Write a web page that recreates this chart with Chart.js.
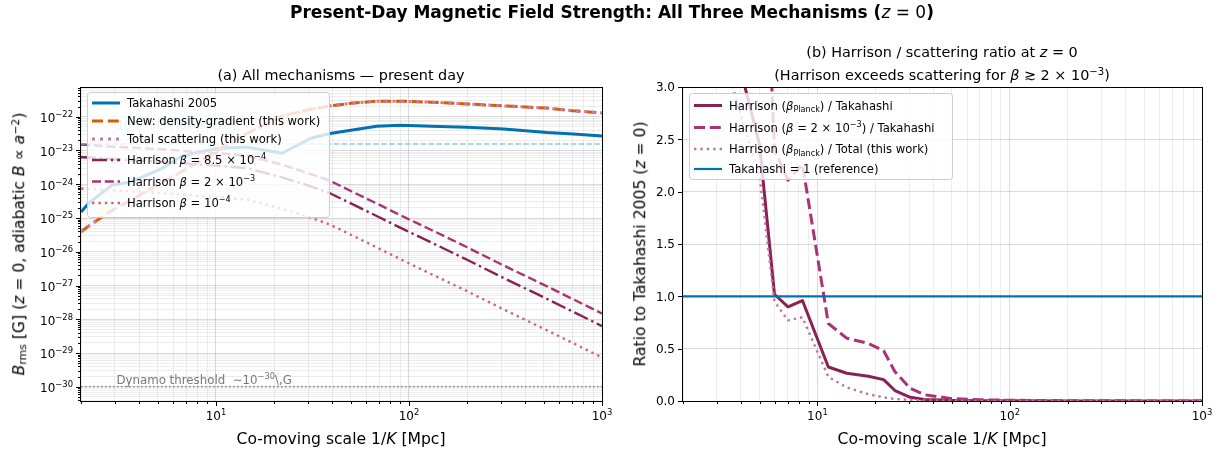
<!DOCTYPE html>
<html>
<head>
<meta charset="utf-8">
<title>Present-Day Magnetic Field Strength</title>
<script src="https://cdn.jsdelivr.net/npm/chart.js@4.4.1/dist/chart.umd.min.js"></script>
<style>
  body { margin: 0; background: #fff; }
  #fig { position: relative; width: 1227px; height: 457px; overflow: hidden; font-family: "DejaVu Sans", sans-serif; color: #000; }
  #fig canvas { position: absolute; top: 0; }
  .lbl { position: absolute; white-space: nowrap; transform: translate(-50%, -50%); line-height: 1; }
  .rot { transform: translate(-50%, -50%) rotate(-90deg); }
  .lbl sup { font-size: 70%; vertical-align: 0.5em; line-height: 0; }
  .lbl sub { font-size: 70%; vertical-align: -0.22em; line-height: 0; }
</style>
</head>
<body>
<div id="fig">
  <canvas id="chartA" width="620" height="457" style="left:0"></canvas>
  <canvas id="chartB" width="607" height="457" style="left:620px"></canvas>

  <div class="lbl" style="left:612px;top:12px;font-size:17px;font-weight:bold">Present-Day Magnetic Field Strength: All Three Mechanisms (<i style="font-weight:normal">z</i><span style="font-weight:normal"> = 0</span>)</div>

  <div class="lbl" style="left:341px;top:75px;font-size:14.4px">(a) All mechanisms — present day</div>
  <div class="lbl" style="left:942px;top:52px;font-size:14.4px">(b) Harrison / scattering ratio at <i>z</i> = 0</div>
  <div class="lbl" style="left:942px;top:75px;font-size:14.4px">(Harrison exceeds scattering for <i>β</i> ≳ 2 × 10<sup>−3</sup>)</div>

  <div class="lbl rot" style="left:20px;top:244px;font-size:15.6px"><i>B</i><sub>rms</sub> [G] (<i>z</i> = 0, adiabatic <i>B</i> ∝ <i>a</i><sup>−2</sup>)</div>
  <div class="lbl rot" style="left:641px;top:244px;font-size:15.6px">Ratio to Takahashi 2005 (<i>z</i> = 0)</div>

  <div class="lbl" style="left:341px;top:440px;font-size:15.6px">Co-moving scale 1/<i>K</i> [Mpc]</div>
  <div class="lbl" style="left:942px;top:440px;font-size:15.6px">Co-moving scale 1/<i>K</i> [Mpc]</div>
</div>

<script>
// ---------- panel (a): field strength today ----------
const kA = [2, 2.2, 2.9, 3.6, 4.4, 5.3, 6.5, 8, 10.5, 14.5, 22, 31, 39, 50, 68, 90, 130, 200, 310, 520, 710, 1000];
const takahashi = [1.5e-25, 2.8e-25, 9.5e-25, 1.17e-24, 1.9e-24, 3.0e-24, 6.3e-24, 8.9e-24, 1.17e-23, 1.26e-23, 8.3e-24,
  2.3e-23, 3.2e-23, 4.0e-23, 5.2e-23, 5.6e-23, 5.2e-23, 4.9e-23, 4.3e-23, 3.4e-23, 3.1e-23, 2.7e-23];
const densityGradient = [3.9e-26, 5.9e-26, 1.7e-25, 3.3e-25, 6.3e-25, 1.17e-24, 2.2e-24, 4.3e-24, 1.1e-23, 3.2e-23, 1.05e-22,
  1.66e-22, 2.1e-22, 2.5e-22, 2.9e-22, 2.9e-22, 2.7e-22, 2.4e-22, 2.1e-22, 1.8e-22, 1.5e-22, 1.3e-22];
const totalScattering = [3.9e-26, 5.9e-26, 1.7e-25, 3.3e-25, 6.3e-25, 1.17e-24, 2.2e-24, 4.3e-24, 1.1e-23, 3.2e-23, 1.05e-22,
  1.66e-22, 2.1e-22, 2.5e-22, 2.9e-22, 2.9e-22, 2.7e-22, 2.4e-22, 2.1e-22, 1.8e-22, 1.5e-22, 1.3e-22];
const harrison85e4 = [6.3e-24, 6.2e-24, 5.6e-24, 5.2e-24, 4.9e-24, 4.6e-24, 4.3e-24, 3.8e-24, 3.5e-24, 3.0e-24, 1.6e-24,
  8.7e-25, 5.4e-25, 2.7e-25, 1.15e-25, 5.2e-26, 1.9e-26, 5.8e-27, 1.66e-27, 4.0e-28, 1.66e-28, 6.3e-29];
const harrison2e3 = [1.5e-23, 1.46e-23, 1.3e-23, 1.22e-23, 1.15e-23, 1.08e-23, 1.0e-23, 8.9e-24, 8.2e-24, 7.1e-24, 3.8e-24,
  2.0e-24, 1.27e-24, 6.3e-25, 2.7e-25, 1.22e-25, 4.5e-26, 1.36e-26, 3.9e-27, 9.4e-28, 3.9e-28, 1.48e-28];
const harrison1e4 = [7.4e-25, 7.3e-25, 6.6e-25, 6.1e-25, 5.8e-25, 5.4e-25, 5.1e-25, 4.5e-25, 4.1e-25, 3.5e-25, 1.9e-25,
  1.02e-25, 6.4e-26, 3.2e-26, 1.35e-26, 6.1e-27, 2.2e-27, 6.8e-28, 1.95e-28, 4.7e-29, 1.95e-29, 7.4e-30];
const kEnds = [2, 1000];
const takahashiLevel = [1.55e-23, 1.55e-23];
const dynamoLevel = [1e-30, 1e-30];

const xTickValues = [10, 100, 1000];
const xTickLabels = ['10^1', '10^2', '10^3'];
const yTickValuesA = [1e-30, 1e-29, 1e-28, 1e-27, 1e-26, 1e-25, 1e-24, 1e-23, 1e-22];
const yTickLabelsA = ['10^-30', '10^-29', '10^-28', '10^-27', '10^-26', '10^-25', '10^-24', '10^-23', '10^-22'];

// ---------- panel (b): ratio to Takahashi ----------
const kB = [2, 3.5, 4.2, 5.0, 5.98, 7.03, 8.36, 11.4, 14.2, 18.4, 22.1, 25.3, 30.4, 36, 49, 70, 100, 200, 500, 1000];
const ratioPlanck = [9.0, 3.6, 3.0, 2.45, 1.02, 0.90, 0.96, 0.325, 0.265, 0.236, 0.204, 0.10, 0.035, 0.015, 0.006, 0.003, 0.002, 0.001, 0.0005, 0.0003];
const ratioBeta2 = [21, 8.5, 7.05, 5.76, 2.40, 2.11, 2.26, 0.74, 0.60, 0.55, 0.48, 0.28, 0.12, 0.06, 0.025, 0.012, 0.007, 0.003, 0.001, 0.0006];
const ratioTotal = [8, 3.1, 2.6, 2.15, 0.95, 0.77, 0.80, 0.23, 0.13, 0.065, 0.035, 0.02, 0.01, 0.005, 0.002, 0.001, 0.0008, 0.0004, 0.0002, 0.0001];
const ratioRef = [1, 1];
const yTickValuesB = [0, 0.5, 1, 1.5, 2, 2.5, 3];
const yTickLabelsB = ['0.0', '0.5', '1.0', '1.5', '2.0', '2.5', '3.0'];

const FONT = '"DejaVu Sans", sans-serif';
const GRID_MAJOR = 'rgba(0,0,0,0.14)';
const GRID_MINOR = 'rgba(0,0,0,0.07)';

function pts(xs, ys) { return xs.map((x, i) => ({ x: x, y: ys[i] })); }

function logTicks(min, max) {
  const out = [];
  for (let e = Math.floor(Math.log10(min)); e <= Math.ceil(Math.log10(max)); e++) {
    for (let m = 1; m <= 9; m++) {
      const v = m * Math.pow(10, e);
      if (v >= min * 0.9999 && v <= max * 1.0001) out.push(v);
    }
  }
  return out;
}
function isDecade(v) { const l = Math.log10(v); return Math.abs(l - Math.round(l)) < 1e-6; }

function tickSegs(s) {
  const p = s.split('^');
  if (p.length < 2) return [[s, '']];
  return [[p[0], ''], [p[1].replace('-', '\u2212'), 'sup']];
}

// draws mixed text (plain / italic / superscript / subscript), y = middle of the capitals
function drawRich(ctx, segs, x, y, size, align, color) {
  let total = 0;
  const parts = segs.map(([t, st]) => {
    const small = st === 'sup' || st === 'sub';
    const font = (st === 'i' ? 'italic ' : '') + (small ? size * 0.7 : size) + 'px ' + FONT;
    ctx.font = font;
    const w = ctx.measureText(t).width;
    total += w;
    return { t, font, w, dy: st === 'sup' ? -0.42 * size : (st === 'sub' ? 0.22 * size : 0) };
  });
  let cx = align === 'center' ? x - total / 2 : (align === 'right' ? x - total : x);
  const base = y + 0.36 * size;
  ctx.fillStyle = color;
  ctx.textAlign = 'left';
  ctx.textBaseline = 'alphabetic';
  parts.forEach(p => { ctx.font = p.font; ctx.fillText(p.t, cx, base + p.dy); cx += p.w; });
}

// frame, tick marks, tick labels, notes and the semi-transparent legend
function makeDecor(cfg) {
  return {
    id: 'decor',
    afterDatasetsDraw(chart) {
      const ctx = chart.ctx, a = chart.chartArea;
      const sx = chart.scales.x, sy = chart.scales.y;
      ctx.save();
      (cfg.notes || []).forEach(n => {
        drawRich(ctx, n.segs, sx.getPixelForValue(n.x), sy.getPixelForValue(n.y), 11.8, 'left', n.color);
      });
      ctx.setLineDash([]);
      ctx.strokeStyle = '#000';
      ctx.lineWidth = 1;
      ctx.beginPath();
      sx.ticks.forEach(t => {
        const p = Math.round(sx.getPixelForValue(t.value)) + 0.5;
        const len = isDecade(t.value) ? 5 : 3;
        ctx.moveTo(p, a.bottom); ctx.lineTo(p, a.bottom + len);
      });
      sy.ticks.forEach(t => {
        const p = Math.round(sy.getPixelForValue(t.value)) + 0.5;
        const len = (!cfg.yLog || isDecade(t.value)) ? 5 : 3;
        ctx.moveTo(a.left, p); ctx.lineTo(a.left - len, p);
      });
      ctx.stroke();
      ctx.strokeRect(Math.round(a.left) - 0.5, Math.round(a.top) + 0.5, Math.round(a.right - a.left) + 1, Math.round(a.bottom - a.top));
      xTickValues.forEach((v, i) => {
        drawRich(ctx, tickSegs(xTickLabels[i]), sx.getPixelForValue(v), a.bottom + 15, 12, 'center', '#000');
      });
      cfg.yTicks.forEach((v, i) => {
        drawRich(ctx, tickSegs(cfg.yLabels[i]), a.left - 8, sy.getPixelForValue(v) + (cfg.yLog ? 1 : 0), 12, 'right', '#000');
      });
      ctx.restore();
    },
    afterDraw(chart) {
      const ctx = chart.ctx, L = cfg.legend;
      ctx.save();
      ctx.beginPath();
      ctx.roundRect(L.x + 0.5, L.y + 0.5, L.w, L.h, 3);
      ctx.fillStyle = 'rgba(255,255,255,0.8)';
      ctx.fill();
      ctx.strokeStyle = '#cccccc';
      ctx.lineWidth = 1;
      ctx.stroke();
      L.items.forEach(it => {
        const ds = chart.data.datasets[it.ds];
        ctx.beginPath();
        ctx.setLineDash(ds.borderDash || []);
        ctx.lineWidth = ds.borderWidth;
        ctx.strokeStyle = ds.borderColor;
        ctx.moveTo(L.x + 5, it.y); ctx.lineTo(L.x + 33, it.y);
        ctx.stroke();
        drawRich(ctx, it.segs, L.x + 40, it.y, 11.6, 'left', '#000');
      });
      ctx.restore();
    }
  };
}

function xScale() {
  return {
    type: 'logarithmic', min: 2, max: 1000, bounds: 'data',
    afterBuildTicks: s => { s.ticks = logTicks(2, 1000).map(v => ({ value: v })); },
    afterFit: s => { s.height = 56; s.paddingLeft = 0; s.paddingRight = 0; },
    ticks: { display: false },
    grid: { color: c => (c.tick && isDecade(c.tick.value) ? GRID_MAJOR : GRID_MINOR), drawTicks: false },
    border: { display: false }
  };
}

function withOrder(list) {
  return list.map((d, i) => Object.assign({
    pointRadius: 0, borderJoinStyle: 'round', borderCapStyle: 'butt', clip: 0, fill: false, tension: 0,
    order: list.length - i
  }, d));
}

const commonOpts = {
  responsive: false, animation: false, events: [],
  plugins: { legend: { display: false }, tooltip: { enabled: false }, title: { display: false } }
};

// ----- chart (a) -----
const yMinA = 3.8e-31, yMaxA = 7.6e-22;
new Chart(document.getElementById('chartA'), {
  type: 'line',
  data: {
    datasets: withOrder([
      { label: 'Takahashi 2005', data: pts(kA, takahashi), borderColor: '#0072B2', borderWidth: 3 },
      { label: 'New: density-gradient (this work)', data: pts(kA, densityGradient), borderColor: '#D55E00', borderWidth: 3, borderDash: [11, 4.8] },
      { label: 'Total scattering (this work)', data: pts(kA, totalScattering), borderColor: '#CC79A7', borderWidth: 3, borderDash: [3, 5] },
      { label: 'Harrison 8.5e-4', data: pts(kA, harrison85e4), borderColor: '#882255', borderWidth: 2.4, borderDash: [15, 3.8, 2.4, 3.8] },
      { label: 'Harrison 2e-3', data: pts(kA, harrison2e3), borderColor: '#AA3377', borderWidth: 2.4, borderDash: [9, 3.8] },
      { label: 'Harrison 1e-4', data: pts(kA, harrison1e4), borderColor: '#CC6677', borderWidth: 2.4, borderDash: [2.4, 4] },
      { label: 'Takahashi level', data: pts(kEnds, takahashiLevel), borderColor: 'rgba(86,180,233,0.7)', borderWidth: 1.4, borderDash: [5.5, 2.4] },
      { label: 'Dynamo threshold', data: pts(kEnds, dynamoLevel), borderColor: 'rgba(110,110,110,0.85)', borderWidth: 1.5, borderDash: [1.5, 2.5] }
    ])
  },
  options: Object.assign({}, commonOpts, {
    layout: { padding: { top: 87, right: 18, left: 0, bottom: 0 } },
    scales: {
      x: xScale(),
      y: {
        type: 'logarithmic', min: yMinA, max: yMaxA, bounds: 'data',
        afterBuildTicks: s => { s.ticks = logTicks(yMinA, yMaxA).map(v => ({ value: v })); },
        afterFit: s => { s.width = 81; s.paddingTop = 0; s.paddingBottom = 0; },
        ticks: { display: false },
        grid: { color: c => (c.tick && isDecade(c.tick.value) ? GRID_MAJOR : GRID_MINOR), drawTicks: false },
        border: { display: false }
      }
    }
  }),
  plugins: [makeDecor({
    yLog: true, yTicks: yTickValuesA, yLabels: yTickLabelsA,
    notes: [
      { x: 3.05, y: 5.7e-23, color: 'rgba(86,180,233,0.8)', segs: [['10', ''], ['\u221223', 'sup'], ['\\,G (Takahashi)', '']] },
      { x: 3.05, y: 1.6e-30, color: '#777777', segs: [['Dynamo threshold  \u223c10', ''], ['\u221230', 'sup'], ['\\,G', '']] }
    ],
    legend: {
      x: 87, y: 92, w: 242, h: 125,
      items: [
        { ds: 0, y: 103, segs: [['Takahashi 2005', '']] },
        { ds: 1, y: 121, segs: [['New: density-gradient (this work)', '']] },
        { ds: 2, y: 139, segs: [['Total scattering (this work)', '']] },
        { ds: 3, y: 160, segs: [['Harrison ', ''], ['\u03b2', 'i'], [' = 8.5 \u00d7 10', ''], ['\u22124', 'sup']] },
        { ds: 4, y: 181.5, segs: [['Harrison ', ''], ['\u03b2', 'i'], [' = 2 \u00d7 10', ''], ['\u22123', 'sup']] },
        { ds: 5, y: 203, segs: [['Harrison ', ''], ['\u03b2', 'i'], [' = 10', ''], ['\u22124', 'sup']] }
      ]
    }
  })]
});

// ----- chart (b) -----
new Chart(document.getElementById('chartB'), {
  type: 'line',
  data: {
    datasets: withOrder([
      { label: 'Harrison (beta Planck) / Takahashi', data: pts(kB, ratioPlanck), borderColor: '#882255', borderWidth: 3 },
      { label: 'Harrison (beta = 2e-3) / Takahashi', data: pts(kB, ratioBeta2), borderColor: '#AA3377', borderWidth: 3, borderDash: [11, 4.8] },
      { label: 'Harrison (beta Planck) / Total', data: pts(kB, ratioTotal), borderColor: '#C172A4', borderWidth: 2.4, borderDash: [2.4, 4] },
      { label: 'Takahashi = 1 (reference)', data: pts(kEnds, ratioRef), borderColor: '#0072B2', borderWidth: 2.2 }
    ])
  },
  options: Object.assign({}, commonOpts, {
    layout: { padding: { top: 87, right: 25, left: 0, bottom: 0 } },
    scales: {
      x: xScale(),
      y: {
        type: 'linear', min: 0, max: 3,
        afterBuildTicks: s => { s.ticks = yTickValuesB.map(v => ({ value: v })); },
        afterFit: s => { s.width = 63; s.paddingTop = 0; s.paddingBottom = 0; },
        ticks: { display: false },
        grid: { color: GRID_MAJOR, drawTicks: false },
        border: { display: false }
      }
    }
  }),
  plugins: [makeDecor({
    yLog: false, yTicks: yTickValuesB, yLabels: yTickLabelsB,
    legend: {
      x: 69, y: 93, w: 263, h: 86,
      items: [
        { ds: 0, y: 105.5, segs: [['Harrison (', ''], ['\u03b2', 'i'], ['Planck', 'sub'], [') / Takahashi', '']] },
        { ds: 1, y: 127.5, segs: [['Harrison (', ''], ['\u03b2', 'i'], [' = 2 \u00d7 10', ''], ['\u22123', 'sup'], [') / Takahashi', '']] },
        { ds: 2, y: 149, segs: [['Harrison (', ''], ['\u03b2', 'i'], ['Planck', 'sub'], [') / Total (this work)', '']] },
        { ds: 3, y: 169, segs: [['Takahashi = 1 (reference)', '']] }
      ]
    }
  })]
});
</script>
</body>
</html>
